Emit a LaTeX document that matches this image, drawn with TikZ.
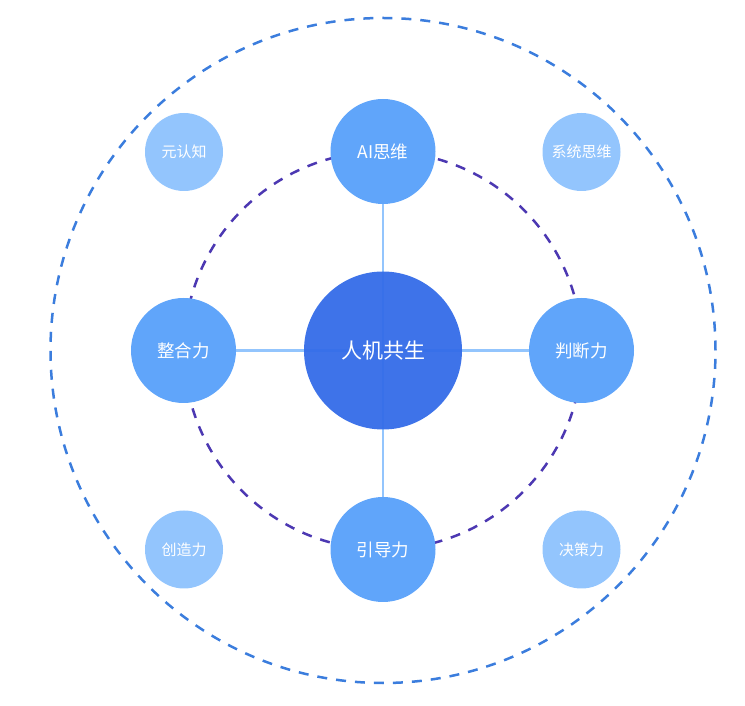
\documentclass[tikz,border=0pt]{standalone}
\usepackage{fontspec}
\setmainfont{Noto Sans CJK SC}
\usepackage{tikz}
\usetikzlibrary{positioning}

\definecolor{coreblue}{RGB}{52,108,232}
\definecolor{satblue}{RGB}{96,165,250}
\definecolor{cornerblue}{RGB}{147,197,253}
\definecolor{linkblue}{RGB}{147,197,253}
\definecolor{outerdash}{RGB}{59,125,221}
\definecolor{innerdash}{RGB}{76,56,178}

\begin{document}
\begin{tikzpicture}[
  x=1pt, y=1pt,
  core/.style={circle, fill=coreblue, fill opacity=0.95, text opacity=1, text=white, minimum size=158pt, inner sep=0pt, font=\fontsize{21}{24}\selectfont},
  sat/.style={circle, fill=satblue, text=white, minimum size=105pt, inner sep=0pt, font=\fontsize{17.5}{20}\selectfont},
  corner/.style={circle, fill=cornerblue, text=white, minimum size=78pt, inner sep=0pt, font=\fontsize{15}{18}\selectfont},
  link/.style={draw=linkblue, line width=2.5pt},
  ring/.style={line width=2.5pt, dash pattern=on 10pt off 9pt}
]
  \useasboundingbox (0,0) rectangle (745,705);

  % rings
  \coordinate (mid) at (383,354.5);
  \draw[ring, outerdash] (mid) circle (332.5);
  \draw[ring, innerdash] (mid) circle (199);

  % satellite positions
  \coordinate (p_ai) at (383,553.5);
  \coordinate (p_judge) at (581.5,354.5);
  \coordinate (p_guide) at (383,155.5);
  \coordinate (p_integrate) at (183.5,354.5);

  \draw[link] (p_ai) -- (p_guide);
  \draw[link] (p_integrate) -- (p_judge);

  \node[core] (core) at (mid) {人机共生};

  \node[sat] (ai) at (p_ai) {AI思维};
  \node[sat] (judge) at (p_judge) {判断力};
  \node[sat] (guide) at (p_guide) {引导力};
  \node[sat] (integrate) at (p_integrate) {整合力};

  \node[corner] (meta) at (184,553) {元认知};
  \node[corner] (systems) at (581.5,553) {系统思维};
  \node[corner] (create) at (184,155.5) {创造力};
  \node[corner] (decide) at (581.5,155.5) {决策力};
\end{tikzpicture}
\end{document}
